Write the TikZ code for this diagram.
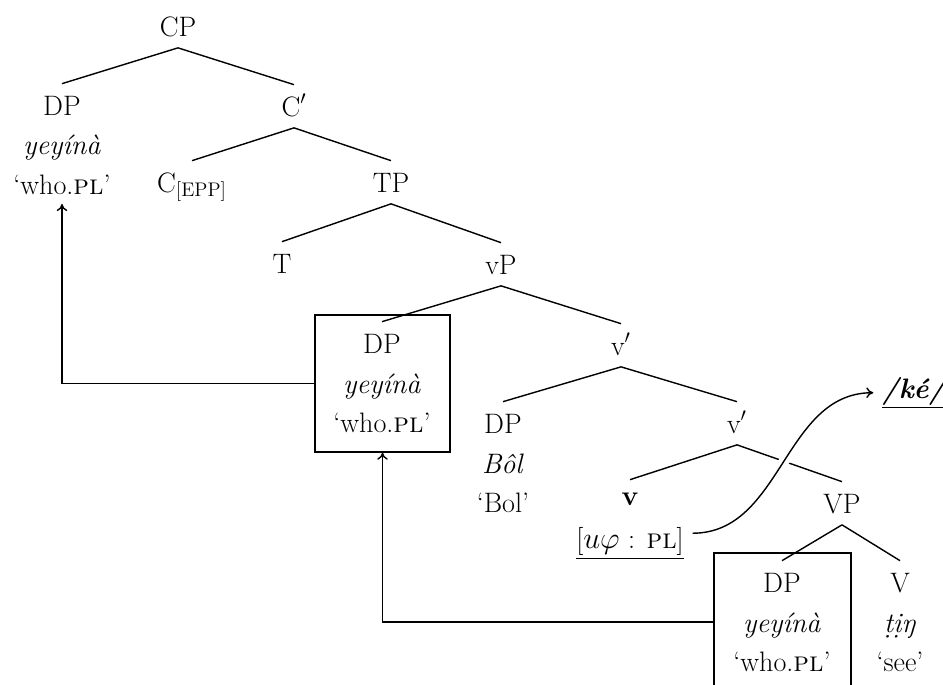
\documentclass[tikz,border=0pt]{standalone}
\usepackage{fontspec}
\usepackage{tikz}
\usetikzlibrary{positioning,arrows.meta}

\tikzset{
  cat/.style={anchor=base, text height=0.39cm, text depth=0pt, inner xsep=1pt, inner ysep=0.23cm},
  gl/.style={anchor=base, inner sep=0.17cm},
  moved/.style={draw, line width=0.8pt, inner sep=0pt},
  branch/.style={line width=0.8pt},
}

\begin{document}
\begin{tikzpicture}[x=0.02cm, y=-0.02cm, font=\fontsize{16}{20}\selectfont, >={To[length=4pt,width=6pt]}]
    \useasboundingbox (0,0) rectangle (943,684);

    % categories
    \node [cat] (CP) at (178,36) {CP};
    \node [cat] (DPa) at (62,115) {DP};
    \node [cat] (Cbar) at (294,116) {C$'$};
    \node [cat] (C) at (192,192) {C\textsubscript{[EPP]}};
    \node [cat] (TP) at (391,192) {TP};
    \node [cat] (T) at (282,273) {T};
    \node [cat] (vP) at (501,274) {vP};
    \node [cat] (DPb) at (382,353) {DP};
    \node [cat] (vbar) at (621,355) {v$'$};
    \node [cat] (DPc) at (503,433) {DP};
    \node [cat] (vbarb) at (737,433) {v$'$};
    \node [cat, text height=0.27cm] (v) at (630,505) {\textbf{v}};
    \node [cat] (VP) at (842,513) {VP};
    \node [cat] (DPd) at (782,592) {DP};
    \node [cat] (V) at (900,592) {V};

    % forms and glosses
    \node [gl, below=0.8cm of DPa.base, anchor=base] (DPa-form) {\textit{yeyínà}};
    \node [gl, below=0.8cm of DPa-form.base, anchor=base] (DPa-gloss) {`who.\textsc{pl}'};
    \node [gl, below=0.8cm of DPb.base, anchor=base] (DPb-form) {\textit{yeyínà}};
    \node [gl, below=0.8cm of DPb-form.base, anchor=base] (DPb-gloss) {`who.\textsc{pl}'};
    \node [gl, below=0.8cm of DPc.base, anchor=base] (DPc-form) {\textit{Bôl}};
    \node [gl, below=0.8cm of DPc-form.base, anchor=base] (DPc-gloss) {`Bol'};
    \node [gl, below=0.87cm of v.base, anchor=base] (feat) {\underline{[$u\varphi$ : \textsc{pl}]}};
    \node [gl, below=0.8cm of DPd.base, anchor=base] (DPd-form) {\textit{yeyínà}};
    \node [gl, below=0.8cm of DPd-form.base, anchor=base] (DPd-gloss) {`who.\textsc{pl}'};
    \node [gl, below=0.8cm of V.base, anchor=base] (V-form) {\textit{ṭịŋ}};
    \node [gl, below=0.8cm of V-form.base, anchor=base] (V-gloss) {`see'};
    \node [gl] (ke) at (915,398) {\underline{\textbf{\textit{/ké/}}}};

    % copies
    \node [moved, minimum width=2.7cm, minimum height=2.74cm] (box1) at (382.5,383.5) {};
    \node [moved, minimum width=2.74cm, minimum height=2.76cm] (box2) at (782.5,622) {};

    \draw [branch] (CP.south) -- (DPa.north);
    \draw [branch] (CP.south) -- (Cbar.north);
    \draw [branch] (Cbar.south) -- (C.north);
    \draw [branch] (Cbar.south) -- (TP.north);
    \draw [branch] (TP.south) -- (T.north);
    \draw [branch] (TP.south) -- (vP.north);
    \draw [branch] (vP.south) -- (DPb.north);
    \draw [branch] (vP.south) -- (vbar.north);
    \draw [branch] (vbar.south) -- (DPc.north);
    \draw [branch] (vbar.south) -- (vbarb.north);
    \draw [branch] (vbarb.south) -- (v.north);
    \draw [branch] (vbarb.south) -- (VP.north);
    \draw [branch] (VP.south) -- (DPd.north);
    \draw [branch] (VP.south) -- (V.north);

    % movement
    \draw [branch, ->] (box1.west) -| (DPa-gloss.south);
    \draw [branch, ->] (box2.west) -| (box1.south);
    \draw [branch, ->, preaction={draw=white, line width=6pt, -}] ([yshift=0.2cm]feat.east) to[out=0, in=180] (ke.west);
\end{tikzpicture}
\end{document}
